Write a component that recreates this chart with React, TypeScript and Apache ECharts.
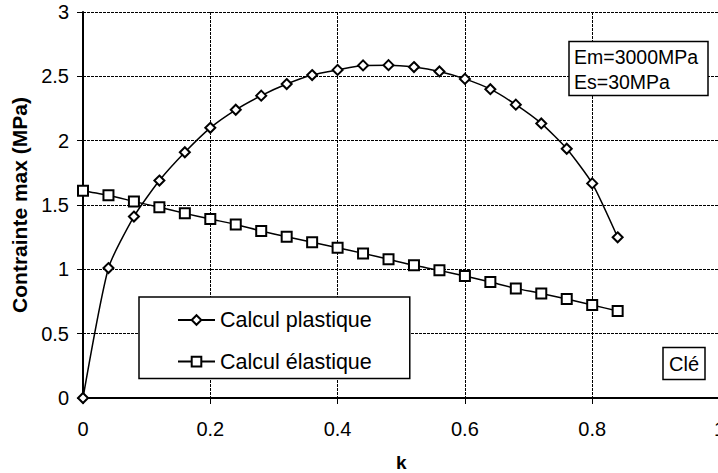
import React, { useEffect, useRef } from "react";
import * as echarts from "echarts";

const kValues = [0, 0.04, 0.08, 0.12, 0.16, 0.2, 0.24, 0.28, 0.32, 0.36, 0.4, 0.44, 0.48, 0.52, 0.56, 0.6, 0.64, 0.68, 0.72, 0.76, 0.8, 0.84];
const plastique = [0, 1.01, 1.41, 1.69, 1.91, 2.1, 2.24, 2.35, 2.44, 2.51, 2.55, 2.585, 2.587, 2.572, 2.538, 2.48, 2.4, 2.28, 2.134, 1.937, 1.668, 1.249];
const elastique = [1.611, 1.575, 1.528, 1.482, 1.435, 1.391, 1.349, 1.298, 1.253, 1.21, 1.168, 1.124, 1.078, 1.031, 0.992, 0.948, 0.901, 0.852, 0.813, 0.769, 0.723, 0.676];
const seriesNames = ["Calcul plastique", "Calcul élastique"];
const annotationLines = ["Em=3000MPa", "Es=30MPa"];
const keyLabel = "Clé";

const FONT = "'Liberation Sans', Arial, sans-serif";

export default function App() {
  const ref = useRef<HTMLDivElement>(null);
  useEffect(() => {
    if (!ref.current) return;
    const chart = echarts.init(ref.current, undefined, { renderer: "svg" });
    const toPairs = (ys: number[]) => kValues.map((k, i) => [k, ys[i]]);
    chart.setOption({
      animation: false,
      backgroundColor: "#ffffff",
      textStyle: { fontFamily: FONT, color: "#000" },
      grid: { left: 83, top: 12, width: 636.5, height: 386, containLabel: false, outerBoundsMode: "none" },
      xAxis: {
        type: "value",
        min: 0,
        max: 1,
        interval: 0.2,
        name: "k",
        nameLocation: "middle",
        nameGap: 56,
        nameTextStyle: { fontFamily: FONT, fontSize: 19, fontWeight: "bold", color: "#000", lineHeight: 16 },
        axisLine: { show: true, onZero: false, lineStyle: { color: "#000", width: 2 } },
        axisTick: { show: true, inside: false, length: 6, lineStyle: { color: "#000", width: 1 } },
        axisLabel: { fontFamily: FONT, fontSize: 20, color: "#000", margin: 21 },
        splitLine: { show: true, lineStyle: { color: "#000", width: 1, type: [3, 1] } },
      },
      yAxis: {
        type: "value",
        min: 0,
        max: 3,
        interval: 0.5,
        name: "Contrainte max (MPa)",
        nameLocation: "middle",
        nameGap: 49,
        nameRotate: 90,
        nameTextStyle: { fontFamily: FONT, fontSize: 21, fontWeight: "bold", color: "#000" },
        axisLine: { show: true, lineStyle: { color: "#000", width: 2 } },
        axisTick: { show: true, inside: false, length: 6, lineStyle: { color: "#000", width: 1 } },
        axisLabel: { fontFamily: FONT, fontSize: 20, color: "#000", margin: 14 },
        splitLine: { show: true, lineStyle: { color: "#000", width: 1, type: [3, 1] } },
      },
      legend: {
        left: 139,
        top: 297,
        orient: "vertical",
        data: seriesNames,
        backgroundColor: "#fff",
        borderColor: "#000",
        borderWidth: 1.5,
        borderRadius: 0,
        padding: [12, 38, 6, 38],
        itemWidth: 37,
        itemHeight: 12,
        itemGap: 19.6,
        textStyle: { fontFamily: FONT, fontSize: 21.5, color: "#000", lineHeight: 22 },
      },
      series: [
        {
          name: seriesNames[0],
          type: "line",
          data: toPairs(plastique),
          smooth: 0.2,
          symbol: "emptyDiamond",
          symbolSize: 10,
          itemStyle: { color: "#000", borderWidth: 1.5 },
          lineStyle: { color: "#000", width: 1.5 },
          z: 3,
        },
        {
          name: seriesNames[1],
          type: "line",
          data: toPairs(elastique),
          smooth: 0.2,
          symbol: "emptyRect",
          symbolSize: 10,
          itemStyle: { color: "#000", borderWidth: 1.5 },
          lineStyle: { color: "#000", width: 1.5 },
          z: 3,
        },
      ],
      graphic: [
        {
          type: "rect",
          shape: { x: 569, y: 41.5, width: 139, height: 54 },
          style: { fill: "#fff", stroke: "#000", lineWidth: 1.5 },
          z: 10,
        },
        {
          type: "text",
          x: 574,
          y: 56.7,
          style: { text: annotationLines[0], font: `19.5px ${FONT}`, fill: "#000", verticalAlign: "middle" },
          z: 11,
        },
        {
          type: "text",
          x: 574,
          y: 81.7,
          style: { text: annotationLines[1], font: `19.5px ${FONT}`, fill: "#000", verticalAlign: "middle" },
          z: 11,
        },
        {
          type: "rect",
          shape: { x: 663, y: 347.5, width: 42, height: 32 },
          style: { fill: "#fff", stroke: "#000", lineWidth: 1.5 },
          z: 10,
        },
        {
          type: "text",
          x: 684,
          y: 363.5,
          style: { text: keyLabel, font: `20px ${FONT}`, fill: "#000", align: "center", verticalAlign: "middle" },
          z: 11,
        },
      ],
    });
    return () => chart.dispose();
  }, []);
  return <div ref={ref} style={{ position: "fixed", left: 0, top: 0, width: 718, height: 473 }} />;
}
